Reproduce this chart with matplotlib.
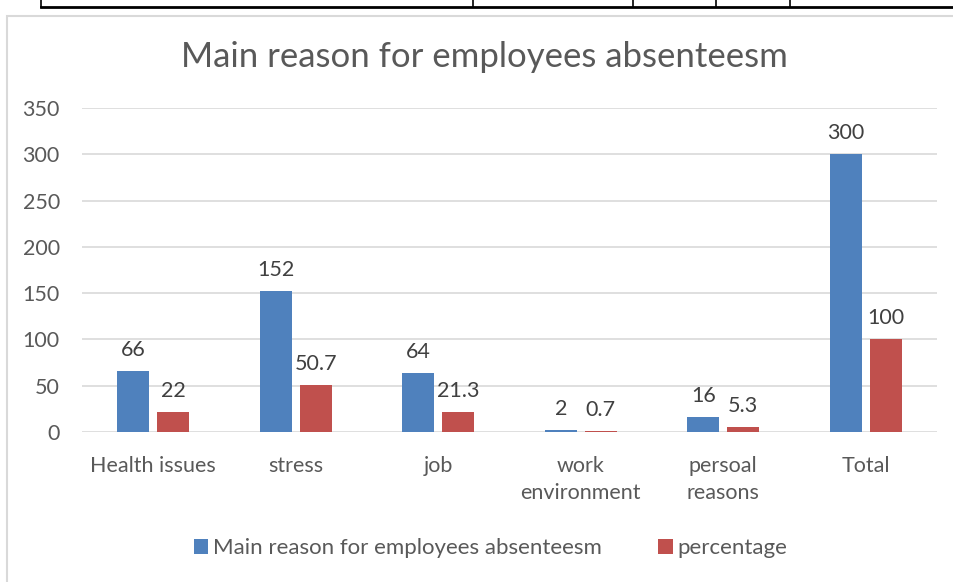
import matplotlib
matplotlib.use("Agg")
import matplotlib.pyplot as plt
import numpy as np
from matplotlib.lines import Line2D
from matplotlib.patches import Rectangle

categories = ["Health issues", "stress", "job", "work\nenvironment", "persoal\nreasons", "Total"]
counts = [66, 152, 64, 2, 16, 300]
percentage = [22, 50.7, 21.3, 0.7, 5.3, 100]
yticks = [0, 50, 100, 150, 200, 250, 300, 350]

blue = "#4F81BD"
red = "#C0504D"
grey = "#595959"

plt.rcParams['font.family'] = ['Lato', 'DejaVu Sans']

fig = plt.figure(figsize=(9.54, 5.82), dpi=100)
ax = fig.add_axes([0.086, 0.2577, 0.896, 0.5567])

x = np.arange(len(categories))
w = 0.225
off = 0.14
b1 = ax.bar(x - off, counts, w, color=blue, label="Main reason for employees absenteesm", zorder=3)
b2 = ax.bar(x + off, percentage, w, color=red, label="percentage", zorder=3)

for bars, vals in ((b1, counts), (b2, percentage)):
    for b, v in zip(bars, vals):
        ax.annotate("%g" % v, (b.get_x() + b.get_width() / 2, b.get_height()),
                    xytext=(0, 8), textcoords="offset points", ha="center", va="bottom",
                    fontsize=15.5, color="#404040")

ax.set_xlim(-0.5, len(categories) - 0.5)
ax.set_ylim(0, 350)
ax.set_yticks(yticks)
ax.set_xticks(x)
ax.set_xticklabels(categories, linespacing=1.45)
ax.tick_params(axis="both", length=0, colors=grey)
ax.tick_params(axis="y", pad=16, labelsize=15.5)
ax.tick_params(axis="x", pad=17, labelsize=15.5)
ax.grid(axis="y", color="#d9d9d9", linewidth=1.2, zorder=0)
for s in ax.spines.values():
    s.set_visible(False)

fig.text(0.508, 0.902, "Main reason for employees absenteesm", ha="center", va="center",
         fontsize=25, color=grey)

fig.legend(loc="center", bbox_to_anchor=(0.514, 0.058), ncol=2, frameon=False,
           fontsize=16, labelcolor=grey, handlelength=0.65, handleheight=0.65,
           handletextpad=0.2, columnspacing=2.55)

# chart area border and the table rule above it
fig.patches.append(Rectangle((7 / 954, -0.1), 1.1, 1 - 16 / 582 + 0.1, transform=fig.transFigure,
                             fill=False, edgecolor="#d9d9d9", linewidth=1.5))
fig.lines.append(Line2D([41 / 954, 1], [1 - 7 / 582] * 2, transform=fig.transFigure,
                        color="black", linewidth=2))
for xv in [41, 473, 633, 716, 790]:
    fig.lines.append(Line2D([xv / 954] * 2, [1 - 7 / 582, 1], transform=fig.transFigure,
                            color="black", linewidth=1.2))

fig.savefig("out.png", dpi=100)
